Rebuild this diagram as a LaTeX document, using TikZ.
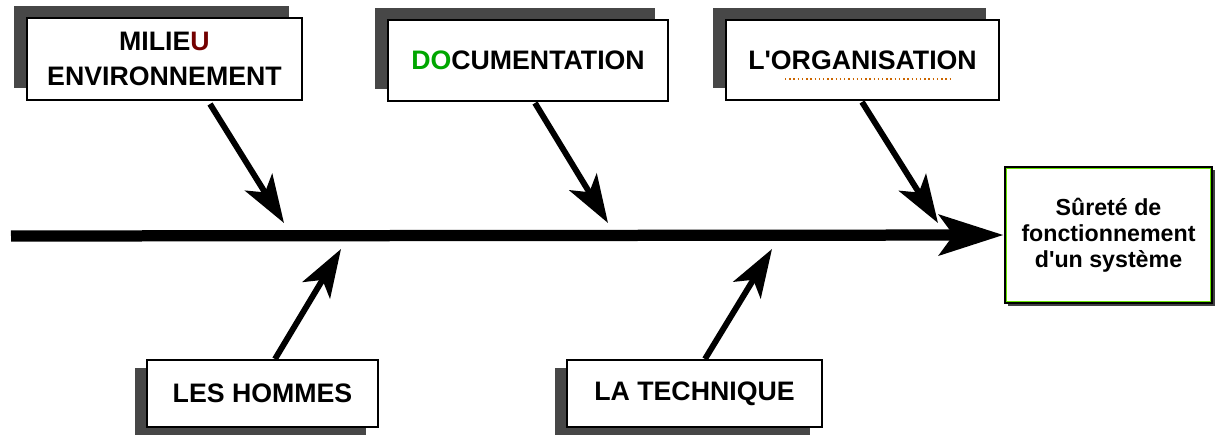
\documentclass[tikz,border=0pt]{standalone}
\usepackage{fontspec}
\setmainfont{Liberation Sans}
\usetikzlibrary{shadows,arrows.meta}
\newcommand{\cause}[2]{\draw[line width=4.2pt, -{Stealth[length=1.2cm, width=0.8cm, inset=0.3cm]}] (#1) -- (#2)}

\tikzset{
  boite/.style={draw=black, line width=1pt, fill=white, align=center,
    font=\fontsize{19}{25}\selectfont\bfseries},
  ombrehaut/.style={drop shadow={shadow xshift=-0.32cm, shadow yshift=0.3cm,
    fill=black!72, opacity=1}},
  ombrebas/.style={drop shadow={shadow xshift=-0.3cm, shadow yshift=-0.2cm,
    fill=black!72, opacity=1}}
}

\begin{document}
\begin{tikzpicture}[x=0.025cm, y=-0.025cm]
                    \useasboundingbox (0,0) rectangle (1217,436);

                    \node[boite, ombrehaut, minimum width=6.875cm, minimum height=2.05cm] (milieu) at (164.5,59) {MILIE\textcolor{red!45!black}{U}\\ENVIRONNEMENT};
                    \node[boite, ombrehaut, minimum width=7cm, minimum height=2.025cm] (doc) at (528,60.5) {\textcolor{green!65!black}{DO}CUMENTATION};
                    \node[boite, ombrehaut, minimum width=6.825cm, minimum height=2cm] (orga) at (862.5,60) {L\textquotesingle ORGANISATION};
                    \node[boite, ombrebas, minimum width=5.775cm, minimum height=1.675cm] (hommes) at (262.5,393.5) {LES HOMMES};
                    \node[boite, ombrebas, minimum width=6.375cm, minimum height=1.675cm] (technique) at (694.5,393.5) {LA TECHNIQUE};
                    \node[boite, line width=2pt,
                          drop shadow={shadow xshift=0.07cm, shadow yshift=-0.07cm, fill=black!75, opacity=1},
                          font=\fontsize{16.5}{18.5}\selectfont\bfseries,
                          minimum width=5.175cm, minimum height=3.4cm] (surete) at (1108.5,235) {Sûreté de\\fonctionnement\\d\textquotesingle un système};
                    \draw[green!55!yellow!90!black, line width=0.8pt] ([shift={(3,3)}]surete.north west) rectangle ([shift={(-3,-3)}]surete.south east);

                    % soulignement pointillé
                    \draw[orange!80!black, dotted, line width=1pt] (785,79) -- (953,79);

                    \coordinate (queue) at (11,236);
                    \draw[line width=8pt, -{Stealth[length=1.6cm, width=1cm, inset=0.35cm]}] (queue) -- (surete.west);

                    \coordinate (d1) at (210,104);
                    \coordinate (d2) at (535,103);
                    \coordinate (d3) at (862,102);
                    \coordinate (d4) at (275,359);
                    \coordinate (d5) at (705,359);
                    \coordinate (a1) at (284,223);
                    \coordinate (a2) at (608,223);
                    \coordinate (a3) at (938,223);
                    \coordinate (a4) at (341,249);
                    \coordinate (a5) at (772,249);

                    \cause{d1}{a1};
                    \cause{d2}{a2};
                    \cause{d3}{a3};
                    \cause{d4}{a4};
                    \cause{d5}{a5};
                \end{tikzpicture}
\end{document}
